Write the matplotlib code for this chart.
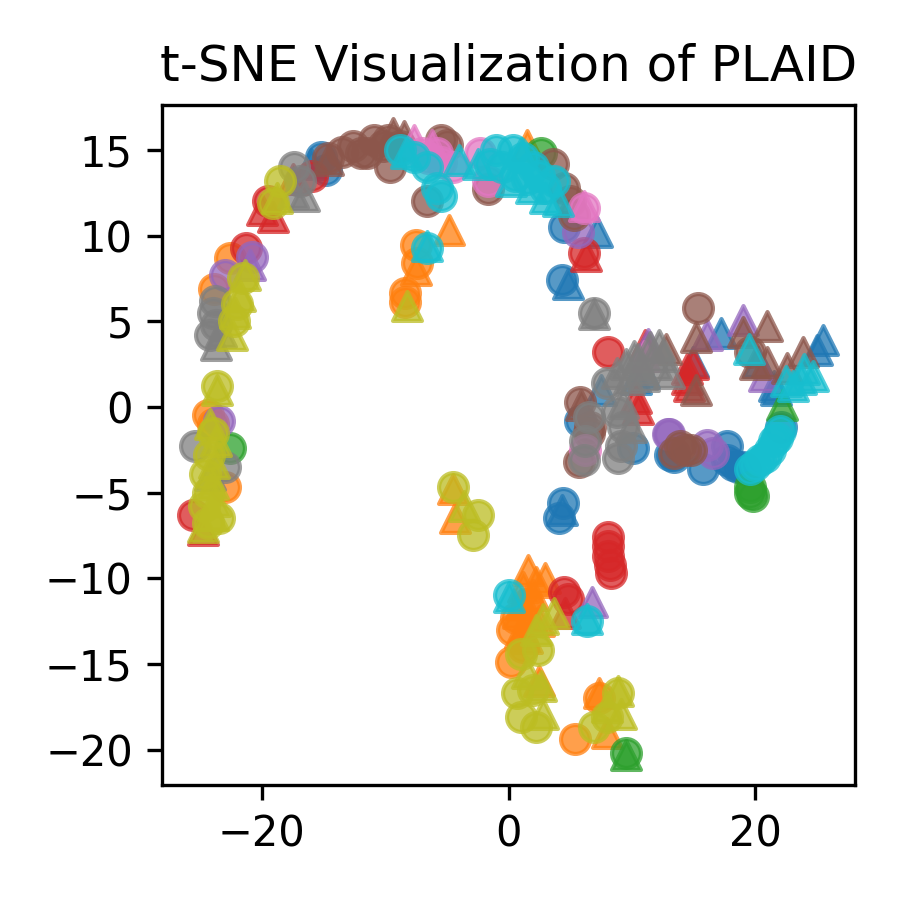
import matplotlib
matplotlib.use("Agg")
import matplotlib.pyplot as plt

colors = plt.get_cmap("tab10").colors

# per class: circle points (x, y) and triangle points (x, y)
c0_x = [-15.2, -14.8, 4.5, 4.3, 4.4, 4.1, 5.8, 10.1, 13.1, 15.8, 17.7, 17.7, 18.2, 18.6, 19.0, 19.2, 22.1, 13.4]
c0_y = [14.6, 13.8, 10.5, 7.4, -5.6, -6.5, -0.8, -2.4, -2.8, -3.6, -2.3, -3.1, -3.4, -3.5, -3.5, -3.6, -1.2, -2.9]
t0_x = [-16.0, 7.2, 4.8, 4.3, 7.5, 15.0, 17.2, 20.2, 21.5, 25.5, 25.0, 21.7, 11.0, 10.3]
t0_y = [14.2, 10.2, 7.2, -6.0, 1.0, 2.6, 4.3, 2.6, 1.2, 3.9, 3.3, 1.0, 2.0, 1.6]

c1_x = [-22.6, -23.9, -24.4, -23.0, -24.0, -7.5, -7.4, -8.4, -8.4, 0.3, 0.2, 5.4, 7.3, 1.5, 0.6, 1.2]
c1_y = [8.7, 6.9, -0.5, -4.7, -1.0, 9.45, 8.4, 6.65, 6.1, -13.0, -14.9, -19.4, -17.0, -11.5, -12.3, -14.0]
t1_x = [-4.8, -7.5, -4.3, -4.5, 1.5, 1.6, 1.2, 2.0, 0.8, 2.5, 1.5, 3.0, 7.3, 2.5, 8.0, 1.0, 2.2, 1.8, 0.9]
t1_y = [10.3, 8.0, -6.5, -4.8, 15.3, -9.5, -10.5, -11.0, -12.0, -12.5, -13.5, -10.0, -16.7, -16.0, -19.0,
        -11.5, -10.2, -12.2, -13.2]

c2_x = [2.6, -22.6, 19.6, 19.6, 9.5, 19.8]
c2_y = [14.8, -2.4, -5.0, -4.7, -20.2, -5.2]
t2_x = [22.2, 9.5]
t2_y = [0.1, -20.3]

c3_x = [-21.3, -19.5, -15.9, 6.1, 8.1, -25.6, 8.1, 8.1, 8.1, 8.2, 8.3, 4.5, 4.8]
c3_y = [9.3, 12.0, 13.5, 9.0, 3.2, -6.3, -7.6, -8.1, -8.7, -9.2, -9.7, -10.8, -11.2]
t3_x = [-19.1, -20.0, 6.3, 11.1, 14.5, 14.5, 14.6, 15.0, 10.3, 10.5, 4.6, -24.8, -17.5]
t3_y = [11.1, 11.5, 8.8, 3.6, 2.2, 1.6, 1.2, 2.5, 0.5, -0.1, -12.0, -7.2, 13.3]

c4_x = [-20.8, -23.0, -23.5, 5.6, 12.9, 16.1, 16.6, 13.0]
c4_y = [8.75, 7.7, -0.8, 10.2, -1.6, -2.2, -2.7, -1.6]
t4_x = [-21.0, 16.1, 19.0, 20.7, 6.8, 11.3]
t4_y = [8.3, 4.2, 5.1, 1.8, -11.4, 3.7]

c5_x = [-14.6, -12.6, -12.0, -11.5, -10.9, -10.2, -9.8, -9.6, -5.5, -5.0, -6.6, 3.6, 4.5, 5.0, 5.3,
        15.4, 19.6, 5.8, 6.6, 6.5, 5.7, 13.9, 14.8, 13.4, 14.3, -1.7, -13.5, -8.8]
c5_y = [14.5, 15.2, 14.8, 14.8, 15.6, 15.2, 15.6, 14.0, 15.6, 15.3, 12.0, 14.2, 12.8, 12.0, 11.2,
        5.8, 3.2, 0.3, -1.2, -1.5, -3.2, -2.3, -2.5, -2.7, -2.5, 12.7, 14.9, 15.2]
t5_x = [-14.6, -9.4, -8.5, 12.8, 15.2, 19.0, 21.0, 15.2, 21.0, 22.6, 23.9, 20.0, 5.9]
t5_y = [14.4, 16.0, 15.8, 3.4, 4.1, 4.4, 4.7, 1.0, 2.6, 2.3, 3.2, 2.5, 0.1]

c6_x = [-7.0, -5.8, -5.5, -6.5, -2.3, -1.7, 6.1, 6.2, -4.5]
c6_y = [14.8, 14.8, 14.3, 14.5, 14.8, 13.2, 11.6, -2.5, 14.0]
t6_x = [-7.7, -6.2, 6.1, 11.0]
t6_y = [15.6, 15.3, 11.7, 3.0]

c7_x = [-17.4, -16.9, -23.8, -24.0, -23.7, -24.2, -25.4, -23.0, 6.9, 8.0, 6.2, 6.1, 8.8, 9.3, 9.1, 8.9, 6.5]
c7_y = [14.0, 13.2, 6.2, 5.5, 4.8, 4.2, -2.3, -3.5, 5.5, 1.4, -2.0, -3.1, -0.3, -1.2, -2.3, -3.0, -0.6]
t7_x = [-16.6, -17.5, -23.7, -23.3, -24.2, 6.9, 9.5, 10.2, 10.8, 11.5, 12.0, 12.5, 11.0, 9.8, 13.0,
        9.3, 9.9, 10.5, 12.2, 8.8]
t7_y = [12.3, 12.5, 3.6, 4.4, -4.0, 5.4, 2.5, 3.0, 2.2, 3.5, 2.5, 3.0, 1.8, 1.6, 2.0,
        0.2, -1.2, 2.8, 3.6, 2.0]

c8_x = [-18.5, -19.1, -21.5, -22.0, -22.3, -23.6, -24.0, -24.3, -24.6, -24.4, -24.7, -24.4, -23.5,
        -4.5, -2.5, -2.9, 1.0, 2.4, 0.7, 2.0, 1.0, 2.2, 6.9, 8.0, 8.9]
c8_y = [13.2, 11.9, 7.5, 6.0, 5.0, 1.2, -1.5, -2.8, -3.9, -5.0, -5.8, -6.8, -6.5,
        -4.7, -6.3, -7.5, -14.4, -14.2, -16.7, -16.5, -18.1, -18.7, -18.7, -18.1, -16.7]
t8_x = [-18.8, -21.4, -21.8, -22.2, -22.4, -8.2, -23.6, -24.2, -23.7, -23.9, -24.0, -23.8, -24.0, -24.8,
        -3.6, 2.8, 3.7, 2.2, 2.6, 2.8, 9.1, 8.0, 8.9, 1.5]
t8_y = [12.2, 7.7, 6.5, 5.5, 4.2, 5.9, 1.0, -1.0, -2.0, -3.3, -4.5, -5.5, -6.3, -7.0,
        -5.8, -12.4, -12.0, -13.0, -16.3, -17.9, -17.9, -17.5, -16.6, -15.5]

c9_x = [-8.8, -7.7, -6.6, -5.8, -5.5, -6.6, -1.0, 0.4, 1.2, -0.5, 0.5, 1.5, 2.5, 3.0, 2.0, 3.7, -1.5,
        0.0, 6.4, 21.8, 21.2, 20.4, 19.6, 21.5, 20.8, 20.0, 22.0]
c9_y = [15.0, 14.6, 14.0, 12.8, 12.3, 9.3, 15.0, 15.0, 14.5, 14.0, 13.5, 13.3, 13.5, 12.8, 14.0, 13.2, 14.2,
        -11.0, -12.5, -1.8, -2.5, -3.1, -3.6, -2.0, -2.9, -3.4, -1.4]
t9_x = [-8.3, -4.0, -2.5, 0.2, 1.8, 3.0, 4.0, 1.0, -6.6, 0.0, 6.4, 19.5, 23.7, 24.7, 23.1, 22.5, 24.0]
t9_y = [14.8, 14.4, 14.2, 13.2, 12.8, 12.2, 12.0, 14.8, 9.4, -11.1, -12.4, 3.4, 1.6, 1.8, 1.2, 1.5, 2.2]

circles = [(c0_x, c0_y), (c1_x, c1_y), (c2_x, c2_y), (c3_x, c3_y), (c4_x, c4_y),
           (c5_x, c5_y), (c6_x, c6_y), (c7_x, c7_y), (c8_x, c8_y), (c9_x, c9_y)]
triangles = [(t0_x, t0_y), (t1_x, t1_y), (t2_x, t2_y), (t3_x, t3_y), (t4_x, t4_y),
             (t5_x, t5_y), (t6_x, t6_y), (t7_x, t7_y), (t8_x, t8_y), (t9_x, t9_y)]

fig, ax = plt.subplots(figsize=(3, 3), dpi=300)
for k in range(10):
    cx, cy = circles[k]
    tx, ty = triangles[k]
    ax.scatter(cx, cy, marker="o", color=colors[k], alpha=0.75, s=48)
    ax.scatter(tx, ty, marker="^", color=colors[k], alpha=0.75, s=48)

ax.set_xlim(-28.1, 28.1)
ax.set_ylim(-22.05, 17.6)
ax.set_xticks([-20, 0, 20])
ax.set_yticks([-20, -15, -10, -5, 0, 5, 10, 15])
ax.set_title("t-SNE Visualization of PLAID", fontsize=12)
ax.tick_params(labelsize=10)
fig.subplots_adjust(left=0.18, right=0.95, top=0.883, bottom=0.128)
fig.savefig("out.png", dpi=300)
